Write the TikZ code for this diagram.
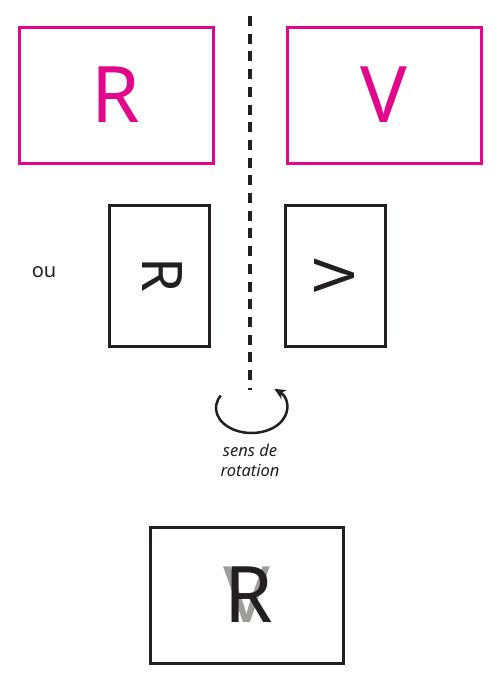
\documentclass[tikz,border=0pt]{standalone}
\usepackage{fontspec}
\setmainfont{Noto Sans}
\usepackage{tikz}
\usetikzlibrary{arrows.meta}

\definecolor{rvpink}{HTML}{E2068C}
\definecolor{rvblack}{HTML}{231F20}
\definecolor{rvgrey}{HTML}{9D9D9C}

\tikzset{
	pinkbox/.style={draw=rvpink, line width=3, text=rvpink, inner sep=0,
		minimum width=194, minimum height=136, font=\fontsize{78}{78}\selectfont},
	blackbox/.style={draw=rvblack, line width=3, inner sep=0},
	midletter/.style={text=rvblack, inner sep=0, font=\fontsize{56}{56}\selectfont},
	bigletter/.style={inner sep=0, font=\fontsize{78}{78}\selectfont},
	axisline/.style={draw=rvblack, line width=3.5, dash pattern=on 10 off 7.7},
	smalltext/.style={text=rvblack, inner sep=0}
}

\begin{document}
\begin{tikzpicture}[x=1pt, y=-1pt, >={Stealth[length=11pt, width=10pt, inset=3pt]}]
		\useasboundingbox (0,0) rectangle (502,697);
		%Axe
		\coordinate (axtop) at (250,16);
		\coordinate (axbot) at (250,390);
		\draw [axisline] (axtop) -- (axbot);
		%Cases roses
		\node [pinkbox] (boxR) at (116,95) {R};
		\node [pinkbox] (boxV) at (384,95) {V};
		%Lettres tournees
		\node [blackbox, minimum width=100, minimum height=141] (boxRrot) at (159,275.5) {};
		\node [blackbox, minimum width=100, minimum height=141] (boxVrot) at (335,275.5) {};
		\node [midletter, rotate=-90] (letRrot) at (162,275) {R};
		\node [midletter, rotate=90] (letVrot) at (335,276) {V};
		\node [smalltext, font=\fontsize{20}{20}\selectfont] (ou) at (44,272) {ou};
		%Sens de rotation
		\coordinate (rotc) at (251.5,408);
		\draw [rvblack, line width=2.5, ->] (rotc) ++(210:35.5 and 25) arc (210:-50:35.5 and 25);
		\node [smalltext, align=center, font=\fontsize{16.5}{20}\selectfont\itshape] (sens) at (250,460.5) {sens de\\rotation};
		%Superposition
		\node [blackbox, minimum width=193, minimum height=136] (boxRV) at (246.5,595) {};
		\node [bigletter, text=rvgrey] (letV) at (247,595) {V};
		\node [bigletter, text=rvblack] (letR) at (249,595) {R};
	\end{tikzpicture}
\end{document}
